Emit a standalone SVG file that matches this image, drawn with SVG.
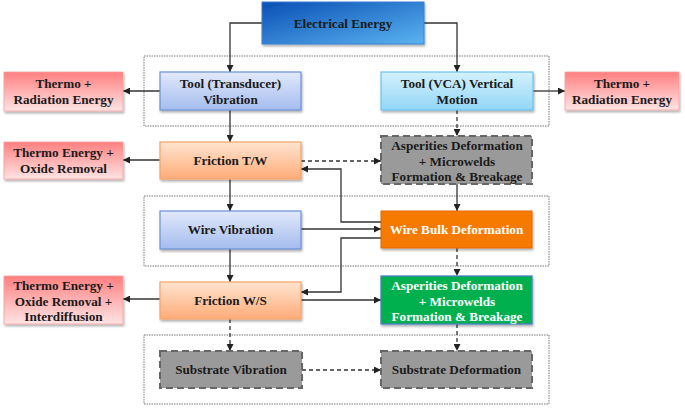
<svg xmlns="http://www.w3.org/2000/svg" width="685" height="408" viewBox="0 0 685 408">
<defs>
<linearGradient id="gElec" x1="0" y1="0" x2="1" y2="1"><stop offset="0" stop-color="#0a4fb5"/><stop offset="1" stop-color="#5ab4f0"/></linearGradient>
<linearGradient id="gTool" x1="0" y1="0" x2="0" y2="1"><stop offset="0" stop-color="#e2e9fb"/><stop offset="1" stop-color="#a4bcee"/></linearGradient>
<linearGradient id="gVca" x1="0" y1="0" x2="0" y2="1"><stop offset="0" stop-color="#d4f1fd"/><stop offset="1" stop-color="#92d6f6"/></linearGradient>
<linearGradient id="gPink" x1="0" y1="0" x2="0" y2="1"><stop offset="0" stop-color="#ff7f7f"/><stop offset="1" stop-color="#ffe4e4"/></linearGradient>
<linearGradient id="gPeach" x1="0" y1="0" x2="0" y2="1"><stop offset="0" stop-color="#ffe4d0"/><stop offset="1" stop-color="#ffac78"/></linearGradient>
<filter id="sh" x="-10%" y="-10%" width="125%" height="135%"><feDropShadow dx="1" dy="2" stdDeviation="1.2" flood-color="#000" flood-opacity="0.3"/></filter>
<marker id="ah" viewBox="0 0 10 10" refX="10" refY="5" markerWidth="7" markerHeight="7" orient="auto" markerUnits="userSpaceOnUse"><path d="M0,0 L10,5 L0,10 z" fill="#222"/></marker>
</defs>
<style>
text{font-family:"Liberation Serif","Times New Roman",serif;font-weight:bold;font-size:13.2px;fill:#1a1a1a;text-anchor:middle}
.w{fill:#ffffff}
.frame{fill:none;stroke:#777;stroke-width:1;stroke-dasharray:1.5 1}
.c{fill:none;stroke:#333;stroke-width:1.3}
.d{fill:none;stroke:#333;stroke-width:1.3;stroke-dasharray:4 3}
.elec{fill:url(#gElec);stroke:#3b7fd0;stroke-width:1}
.tool{fill:url(#gTool);stroke:#6a8fd6;stroke-width:1.2}
.vca{fill:url(#gVca);stroke:#6cc0ec;stroke-width:1.2}
.pink{fill:url(#gPink);stroke:#f4a0a0;stroke-width:0.8}
.peach{fill:url(#gPeach);stroke:#f5a468;stroke-width:1.2}
.orange{fill:#f77a05;stroke:#e06a00;stroke-width:1}
.green{fill:#00b050;stroke:#4a80c4;stroke-width:1.3}
.gray{fill:#9a9a9a;stroke:#666;stroke-width:2;stroke-dasharray:7 4}
</style>
<rect width="685" height="408" fill="#ffffff"/>
<g id="frames">
<rect class="frame" x="144" y="56" width="405" height="70"/>
<rect class="frame" x="144" y="196" width="405" height="70"/>
<rect class="frame" x="144" y="335" width="405" height="69"/>
</g>
<g id="connectors">
<path class="c" d="M262,23 H230 V72" marker-end="url(#ah)"/>
<path class="c" d="M424,23 H457 V72" marker-end="url(#ah)"/>
<path class="c" d="M160,91 H123" marker-end="url(#ah)"/>
<path class="c" d="M533,91 H565" marker-end="url(#ah)"/>
<path class="c" d="M230,110 V142" marker-end="url(#ah)"/>
<path class="d" d="M457,110 V136" marker-end="url(#ah)"/>
<path class="c" d="M160,160 H123" marker-end="url(#ah)"/>
<path class="d" d="M301,161 H381" marker-end="url(#ah)"/>
<path class="c" d="M381,222 H341 V169 H301" marker-end="url(#ah)"/>
<path class="c" d="M457,184 V211" marker-end="url(#ah)"/>
<path class="c" d="M230,179 V211" marker-end="url(#ah)"/>
<path class="c" d="M301,229 H381" marker-end="url(#ah)"/>
<path class="c" d="M381,238 H341 V292 H301" marker-end="url(#ah)"/>
<path class="c" d="M230,249 V282" marker-end="url(#ah)"/>
<path class="d" d="M457,248 V276" marker-end="url(#ah)"/>
<path class="c" d="M160,299 H123" marker-end="url(#ah)"/>
<path class="c" d="M301,300 H381" marker-end="url(#ah)"/>
<path class="d" d="M230,319 V351" marker-end="url(#ah)"/>
<path class="d" d="M457,324 V351" marker-end="url(#ah)"/>
<path class="d" d="M302,370 H381" marker-end="url(#ah)"/>
</g>
<g id="electrical-energy"><rect class="elec" x="262" y="2" width="162" height="42" filter="url(#sh)"/><text x="343" y="28">Electrical Energy</text></g>
<g id="tool-transducer"><rect class="tool" x="160" y="72" width="141" height="38" filter="url(#sh)"/><text x="230.5" y="88">Tool (Transducer)</text><text x="230.5" y="104">Vibration</text></g>
<g id="tool-vca"><rect class="vca" x="381" y="72" width="152" height="38" filter="url(#sh)"/><text x="457" y="88">Tool (VCA) Vertical</text><text x="457" y="104">Motion</text></g>
<g id="thermo-radiation-left"><rect class="pink" x="4" y="72" width="119" height="39" filter="url(#sh)"/><text x="63.5" y="88">Thermo +</text><text x="63.5" y="104">Radiation Energy</text></g>
<g id="thermo-radiation-right"><rect class="pink" x="565" y="72" width="114" height="38" filter="url(#sh)"/><text x="622" y="88">Thermo +</text><text x="622" y="104">Radiation Energy</text></g>
<g id="thermo-oxide"><rect class="pink" x="4" y="142" width="119" height="37" filter="url(#sh)"/><text x="63.5" y="157">Thermo Energy +</text><text x="63.5" y="173">Oxide Removal</text></g>
<g id="friction-tw"><rect class="peach" x="160" y="142" width="141" height="37" filter="url(#sh)"/><text x="230.5" y="165">Friction T/W</text></g>
<g id="asperities-gray"><rect class="gray" x="381" y="136" width="151" height="48"/><text x="457" y="150">Asperities Deformation</text><text x="457" y="165.5">+ Microwelds</text><text x="457" y="181">Formation &amp; Breakage</text></g>
<g id="wire-vibration"><rect class="tool" x="160" y="211" width="141" height="38" filter="url(#sh)"/><text x="230.5" y="234">Wire Vibration</text></g>
<g id="wire-bulk"><rect class="orange" x="381" y="211" width="151" height="37" filter="url(#sh)"/><text class="w" x="456.5" y="234">Wire Bulk Deformation</text></g>
<g id="thermo-oxide-interdiffusion"><rect class="pink" x="4" y="276" width="119" height="48" filter="url(#sh)"/><text x="63.5" y="290">Thermo Energy +</text><text x="63.5" y="305.5">Oxide Removal +</text><text x="63.5" y="321">Interdiffusion</text></g>
<g id="friction-ws"><rect class="peach" x="160" y="282" width="141" height="37" filter="url(#sh)"/><text x="230.5" y="305">Friction W/S</text></g>
<g id="asperities-green"><rect class="green" x="381" y="276" width="151" height="48" filter="url(#sh)"/><text class="w" x="457" y="290">Asperities Deformation</text><text class="w" x="457" y="305.5">+ Microwelds</text><text class="w" x="457" y="321">Formation &amp; Breakage</text></g>
<g id="substrate-vibration"><rect class="gray" x="160" y="351" width="142" height="37"/><text x="231" y="374">Substrate Vibration</text></g>
<g id="substrate-deformation"><rect class="gray" x="381" y="351" width="151" height="37"/><text x="456.5" y="374">Substrate Deformation</text></g>
</svg>
